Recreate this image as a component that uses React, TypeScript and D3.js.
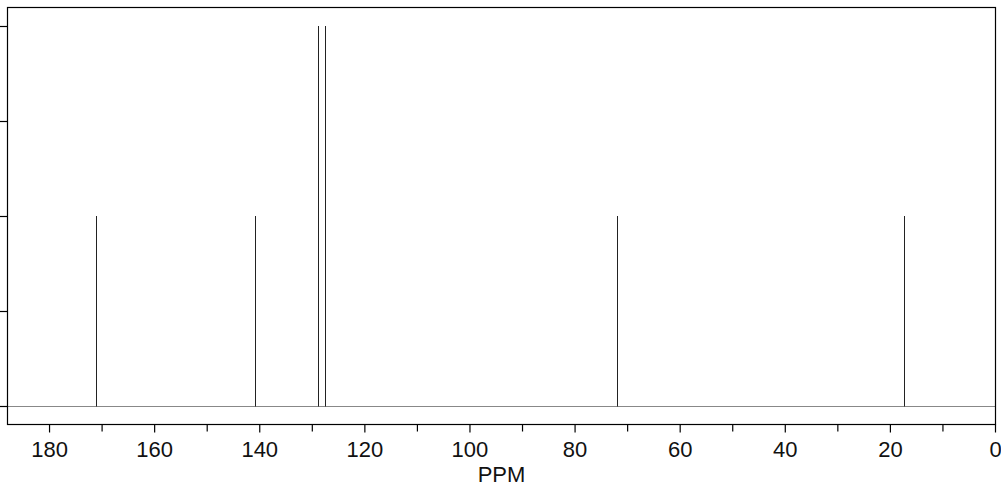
import React from "react";
import * as d3 from "d3";

const peakPpm = [171.2, 140.9, 128.9, 127.5, 72.1, 17.5];
const peakHeight = [1, 1, 2, 2, 1, 1];
const majorTicks = [180, 160, 140, 120, 100, 80, 60, 40, 20, 0];
const minorTicks = [170, 150, 130, 110, 90, 70, 50, 30, 10];
const yTicks = [0, 0.5, 1, 1.5, 2];

export default function App() {
  const W = 1001, H = 499;
  const left = 7.5, right = 995.5, top = 7.5, bottom = 424.5;
  const x = d3.scaleLinear().domain([188, 0]).range([left, right]);
  const y = d3.scaleLinear().domain([-0.1, 2.097]).range([bottom, top]);
  const font = "'Liberation Sans', Arial, sans-serif";
  return (
    <svg width={W} height={H} style={{ position: "absolute", left: 0, top: 0, background: "#fff" }}>
      <line x1={left} x2={right} y1={Math.round(y(0)) + 0.5} y2={Math.round(y(0)) + 0.5} stroke="#888" strokeWidth={1} />
      {peakPpm.map((p, i) => (
        <line key={i} x1={Math.round(x(p)) + 0.5} x2={Math.round(x(p)) + 0.5}
          y1={Math.round(y(0)) + 0.5} y2={Math.round(y(peakHeight[i]))}
          stroke="#222" strokeWidth={1} />
      ))}
      <rect x={left} y={top} width={right - left} height={bottom - top} fill="none" stroke="#000" strokeWidth={1.2} />
      {yTicks.map((t) => (
        <line key={t} x1={0} x2={left} y1={Math.round(y(t)) + 0.5} y2={Math.round(y(t)) + 0.5} stroke="#000" strokeWidth={1.2} />
      ))}
      {majorTicks.map((t) => (
        <g key={t}>
          <line x1={x(t)} x2={x(t)} y1={bottom} y2={bottom + 8} stroke="#000" strokeWidth={1.2} />
          <text x={x(t)} y={456.5} textAnchor="middle" fontFamily={font} fontSize={22} fill="#111">{t}</text>
        </g>
      ))}
      {minorTicks.map((t) => (
        <line key={t} x1={x(t)} x2={x(t)} y1={bottom} y2={bottom + 7} stroke="#000" strokeWidth={1.2} />
      ))}
      <text x={(left + right) / 2} y={482} textAnchor="middle" fontFamily={font} fontSize={22} fill="#111">PPM</text>
    </svg>
  );
}
